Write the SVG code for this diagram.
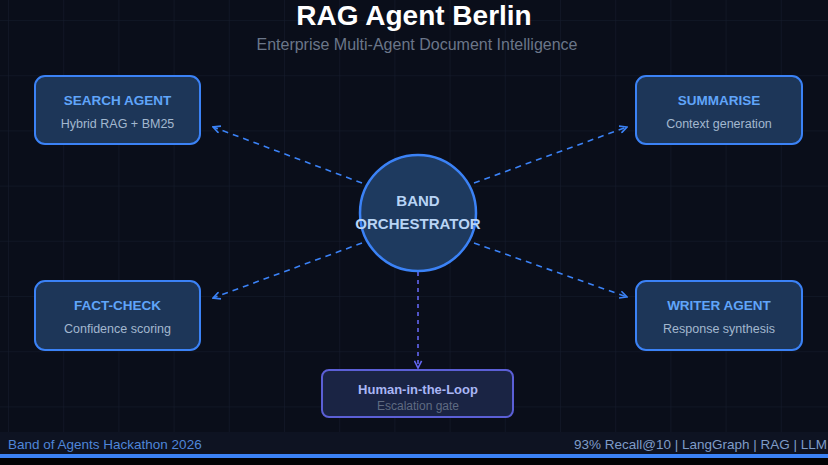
<svg xmlns="http://www.w3.org/2000/svg" width="828" height="465" viewBox="0 0 828 465">
<defs>
<pattern id="grid" x="8" y="20" width="55.2" height="55.2" patternUnits="userSpaceOnUse">
<path d="M0,0 L55.2,0 M0,0 L0,55.2" fill="none" stroke="#161d2e" stroke-width="1"/>
</pattern>
<marker id="arrB" viewBox="0 0 10 10" refX="9" refY="5" markerWidth="9" markerHeight="9" markerUnits="userSpaceOnUse" orient="auto">
<path d="M1,1 L9,5 L1,9" fill="none" stroke="#3b82f6" stroke-width="1.8"/>
</marker>
<marker id="arrP" viewBox="0 0 10 10" refX="9" refY="5" markerWidth="9" markerHeight="9" markerUnits="userSpaceOnUse" orient="auto">
<path d="M1,1 L9,5 L1,9" fill="none" stroke="#6366f1" stroke-width="1.8"/>
</marker>
</defs>
<style>
.box{fill:#1d3658;stroke:#3b82f6;stroke-width:2}
.hbox{fill:#1a2444;stroke:#5b5fd6;stroke-width:2}
.t{font-family:"Liberation Sans",Arial,sans-serif;font-weight:bold;font-size:13.5px;fill:#60a5fa;text-anchor:middle}
.s{font-family:"Liberation Sans",Arial,sans-serif;font-size:12.5px;fill:#a3b8cf;text-anchor:middle}
.c{fill:none;stroke:#3b82f6;stroke-width:1.6;stroke-dasharray:6 5;marker-end:url(#arrB)}
.cp{fill:none;stroke:#6366f1;stroke-width:1.6;stroke-dasharray:4 4;marker-end:url(#arrP)}
</style>
<rect width="828" height="465" fill="#0a0e1a"/>
<rect width="828" height="432" fill="url(#grid)"/>
<text x="414" y="25" font-family="Liberation Sans,Arial,sans-serif" font-weight="bold" font-size="28" fill="#ffffff" text-anchor="middle">RAG Agent Berlin</text>
<text x="417" y="50" font-family="Liberation Sans,Arial,sans-serif" font-size="16" fill="#6b7689" text-anchor="middle">Enterprise Multi-Agent Document Intelligence</text>
<g id="connectors">
<line class="c" x1="362" y1="183" x2="213" y2="127"/>
<line class="c" x1="362" y1="243" x2="213" y2="298"/>
<line class="c" x1="474" y1="183" x2="627" y2="127"/>
<line class="c" x1="474" y1="243" x2="627" y2="297"/>
<line class="cp" x1="418" y1="272" x2="418" y2="368"/>
</g>
<g id="search">
<rect class="box" x="35" y="76" width="165" height="68" rx="10"/>
<text class="t" x="117.5" y="105">SEARCH AGENT</text>
<text class="s" x="117.5" y="128">Hybrid RAG + BM25</text>
</g>
<g id="summarise">
<rect class="box" x="636" y="76" width="166" height="68" rx="10"/>
<text class="t" x="719" y="105">SUMMARISE</text>
<text class="s" x="719" y="128">Context generation</text>
</g>
<g id="factcheck">
<rect class="box" x="35" y="281" width="165" height="69" rx="10"/>
<text class="t" x="117.5" y="310">FACT-CHECK</text>
<text class="s" x="117.5" y="333">Confidence scoring</text>
</g>
<g id="writer">
<rect class="box" x="636" y="281" width="166" height="69" rx="10"/>
<text class="t" x="719" y="310">WRITER AGENT</text>
<text class="s" x="719" y="333">Response synthesis</text>
</g>
<g id="orchestrator">
<circle cx="418" cy="213" r="58" fill="#1e3a5f" stroke="#3b82f6" stroke-width="2.5"/>
<text x="418" y="206" font-family="Liberation Sans,Arial,sans-serif" font-weight="bold" font-size="15" fill="#b8d4f5" text-anchor="middle">BAND</text>
<text x="418" y="229" font-family="Liberation Sans,Arial,sans-serif" font-weight="bold" font-size="15" fill="#b8d4f5" text-anchor="middle">ORCHESTRATOR</text>
</g>
<g id="human">
<rect class="hbox" x="322" y="370" width="191" height="47" rx="7"/>
<text x="418" y="394" font-family="Liberation Sans,Arial,sans-serif" font-weight="bold" font-size="13" fill="#a9b6f5" text-anchor="middle">Human-in-the-Loop</text>
<text x="418" y="410" font-family="Liberation Sans,Arial,sans-serif" font-size="12" fill="#5f6b82" text-anchor="middle">Escalation gate</text>
</g>
<g id="footer">
<rect x="0" y="432" width="828" height="22" fill="#0e1322"/>
<rect x="0" y="454" width="828" height="4" fill="#3b82f6"/>
<rect x="0" y="458" width="828" height="7" fill="#020305"/>
<text x="8" y="449" font-family="Liberation Sans,Arial,sans-serif" font-size="13.5" fill="#4f86d9">Band of Agents Hackathon 2026</text>
<text x="827" y="449" font-family="Liberation Sans,Arial,sans-serif" font-size="13.5" fill="#7f9cc8" text-anchor="end">93% Recall@10 | LangGraph | RAG | LLM</text>
</g>
</svg>
